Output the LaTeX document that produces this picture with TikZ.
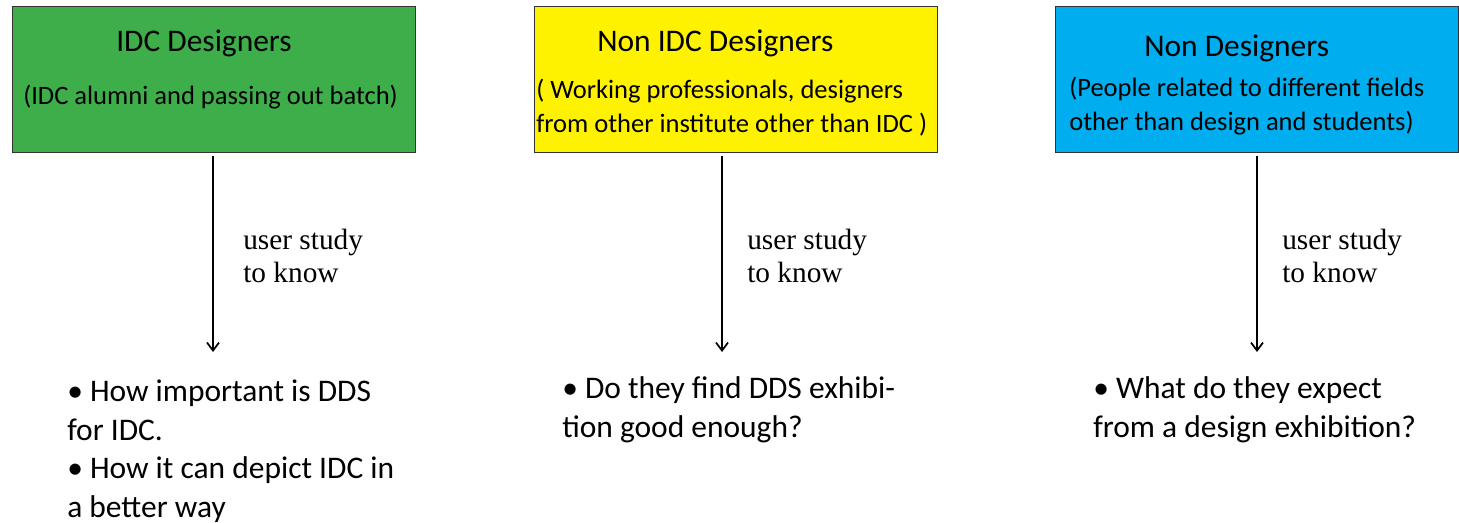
\documentclass[tikz,border=0pt]{standalone}
\usepackage{fontspec}
\setmainfont{Liberation Serif}
\setsansfont{Carlito}
\usetikzlibrary{arrows.meta}
\definecolor{idcgreen}{HTML}{3DAE49}
\definecolor{nonyellow}{HTML}{FFF200}
\definecolor{noncyan}{HTML}{00AEEF}

\begin{document}
\begin{tikzpicture}[
  x=0.75pt, y=-0.75pt,
  font=\sffamily,
  grp/.style={draw=black!80, line width=0.75pt, minimum width=302.25pt,
              minimum height=109.5pt, inner sep=0pt},
  head/.style={anchor=base west, inner sep=0pt, font=\sffamily\fontsize{23.6}{28}\selectfont},
  sub/.style={anchor=base west, inner sep=0pt, align=left,
              font=\sffamily\fontsize{19.9}{25.5}\selectfont},
  why/.style={anchor=base west, inner sep=0pt, align=left,
              font=\rmfamily\fontsize{22}{24.75}\selectfont},
  ask/.style={anchor=base west, inner sep=0pt, align=left,
              font=\sffamily\fontsize{23.6}{28.8}\selectfont},
  flow/.style={-{Straight Barb[length=6pt,width=9pt]}, line width=1.3pt, black,
               shorten <=2pt},
]
  \useasboundingbox (0,0) rectangle (1459,523);

  % Groups (multi-line texts sit on their last baseline)
  \node[grp, fill=idcgreen] (b1) at (213.5,80) {};
  \node[grp, fill=nonyellow] (b2) at (735.5,80) {};
  \node[grp, fill=noncyan] (b3) at (1256.5,80) {};

  \node[head] (h1) at (116,52) {IDC Designers};
  \node[sub] (s1) at (23,105) {(IDC alumni and passing out batch)};
  \node[head] (h2) at (597,52) {Non IDC Designers};
  \node[sub] (s2) at (536,133) {( Working professionals, designers\\from other institute other than IDC )};
  \node[head] (h3) at (1144,57) {Non Designers};
  \node[sub] (s3) at (1069,131) {(People related to different fields\\other than design and students)};

  % Study arrows
  \coordinate (e1) at (213,352);
  \coordinate (e2) at (722,352);
  \coordinate (e3) at (1257,352);
  \draw[flow] (b1.south -| e1) -- (e1);
  \draw[flow] (b2.south -| e2) -- (e2);
  \draw[flow] (b3.south -| e3) -- (e3);

  \node[why] (w1) at (243,283) {user study\\to know};
  \node[why] (w2) at (747,283) {user study\\to know};
  \node[why] (w3) at (1282,283) {user study\\to know};

  % Questions
  \node[ask] (q1) at (67,517) {• How important is DDS\\for IDC.\\• How it can depict IDC in\\a better way};
  \node[ask] (q2) at (562,437) {• Do they find DDS exhibi-\\tion good enough?};
  \node[ask] (q3) at (1093,437) {• What do they expect\\from a design exhibition?};
\end{tikzpicture}
\end{document}
